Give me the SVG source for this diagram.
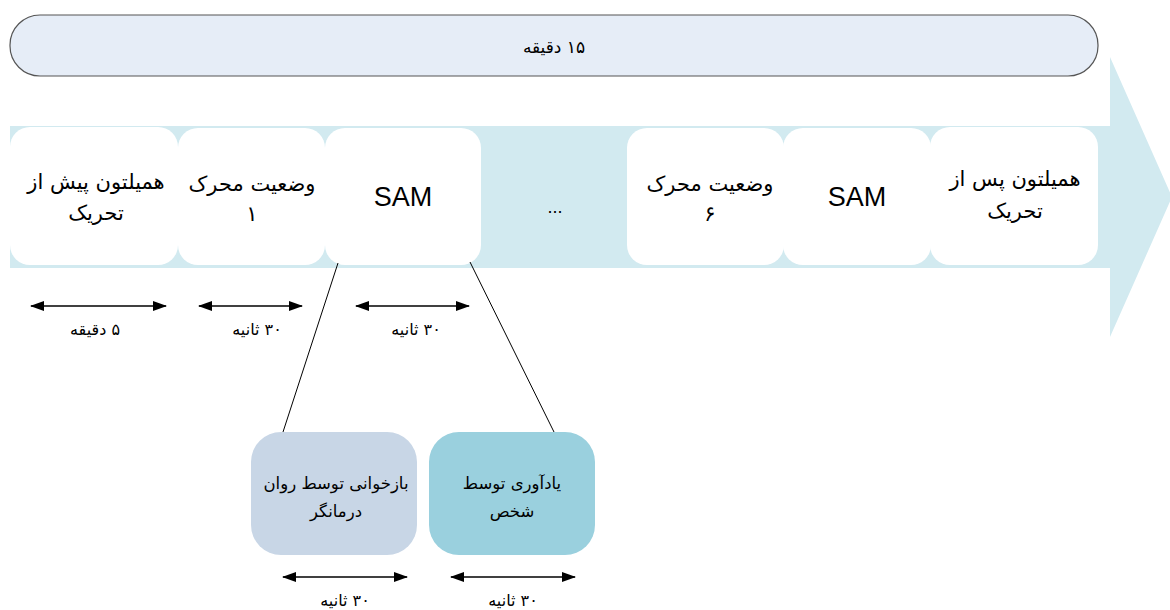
<svg xmlns="http://www.w3.org/2000/svg" width="1170" height="610" viewBox="0 0 1170 610">
<style>
.fa{font-family:"DejaVu Sans","Noto Sans",sans-serif;fill:#000;text-anchor:middle;direction:rtl}
.big{font-size:21px}
.sm{font-size:16px}
.md{font-size:16.5px}
.top{font-size:17px}
.en{font-family:"Liberation Sans",Arial,sans-serif;font-size:27px;text-anchor:middle;fill:#000}
.wb{fill:#fff}
.ar{stroke:#000;stroke-width:1.3;fill:none;marker-start:url(#ah);marker-end:url(#ah)}
.ln{stroke:#000;stroke-width:1;fill:none}
</style>
<defs>
<marker id="ah" viewBox="0 0 14 10" refX="13" refY="5" markerWidth="14" markerHeight="10" markerUnits="userSpaceOnUse" orient="auto-start-reverse">
<path d="M0,0 L14,5 L0,10 Z" fill="#000"/>
</marker>
</defs>
<rect width="1170" height="610" fill="#fff"/>
<g id="timeline-arrow">
<path d="M10,126 L1110,126 L1110,57 L1172,197 L1110,337 L1110,268 L10,268 Z" fill="#d2eaf0"/>
</g>
<g id="total-bar">
<rect x="10" y="15" width="1088" height="61" rx="30" ry="30" fill="#e6edf7" stroke="#555" stroke-width="1.2"/>
<text class="fa top" x="554" y="53">۱۵ دقیقه</text>
</g>
<g id="node-pre">
<rect class="wb" x="10" y="127" width="168" height="138" rx="20"/>
<text class="fa big" x="96" y="189">همیلتون پیش از</text>
<text class="fa big" x="96" y="220">تحریک</text>
</g>
<g id="node-stim1">
<rect class="wb" x="178" y="128" width="147" height="137" rx="20"/>
<text class="fa big" x="252" y="191">وضعیت محرک</text>
<text class="fa big" x="252" y="221">۱</text>
</g>
<g id="node-sam1">
<rect class="wb" x="325" y="128" width="156" height="137" rx="20"/>
<text class="en" x="403" y="206">SAM</text>
</g>
<g id="node-dots">
<text class="en" x="555" y="213" style="font-size:18px">...</text>
</g>
<g id="node-stim6">
<rect class="wb" x="627" y="128" width="157" height="137" rx="20"/>
<text class="fa big" x="710" y="191">وضعیت محرک</text>
<text class="fa big" x="710" y="221">۶</text>
</g>
<g id="node-sam6">
<rect class="wb" x="783" y="128" width="148" height="137" rx="20"/>
<text class="en" x="857" y="206">SAM</text>
</g>
<g id="node-post">
<rect class="wb" x="930" y="127" width="168" height="138" rx="20"/>
<text class="fa big" x="1015" y="186">همیلتون پس از</text>
<text class="fa big" x="1015" y="218">تحریک</text>
</g>
<g id="node-recall-therapist">
<rect x="251" y="432" width="166" height="123" rx="30" fill="#c8d6e6"/>
<text class="fa md" x="336" y="489">بازخوانی توسط روان</text>
<text class="fa md" x="336" y="517">درمانگر</text>
</g>
<g id="node-recall-self">
<rect x="429" y="432" width="166" height="123" rx="30" fill="#9ad0de"/>
<text class="fa md" x="512" y="489">یادآوری توسط</text>
<text class="fa md" x="512" y="517">شخص</text>
</g>
<g id="connectors">
<line class="ln" x1="338" y1="263" x2="283" y2="432"/>
<line class="ln" x1="470" y1="262" x2="554" y2="432"/>
<line class="ar" x1="31" y1="306" x2="166" y2="306"/>
<line class="ar" x1="199" y1="306" x2="302" y2="306"/>
<line class="ar" x1="356" y1="306" x2="469" y2="306"/>
<line class="ar" x1="283" y1="577" x2="407" y2="577"/>
<line class="ar" x1="451" y1="577" x2="575" y2="577"/>
</g>
<g id="duration-labels">
<text class="fa sm" x="95" y="335">۵ دقیقه</text>
<text class="fa sm" x="257" y="335">۳۰ ثانیه</text>
<text class="fa sm" x="416" y="335">۳۰ ثانیه</text>
<text class="fa sm" x="345" y="606">۳۰ ثانیه</text>
<text class="fa sm" x="513" y="606">۳۰ ثانیه</text>
</g>
</svg>
